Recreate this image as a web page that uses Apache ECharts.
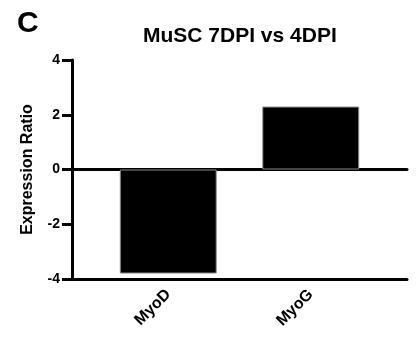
<!DOCTYPE html>
<html>
<head>
<meta charset="utf-8">
<script src="https://cdn.jsdelivr.net/npm/echarts@6/dist/echarts.min.js"></script>
<style>
  html, body { margin: 0; padding: 0; background: #fff; }
  #chart { width: 418px; height: 344px; }
</style>
</head>
<body>
<div id="chart"></div>
<script>
const genes = ['MyoD', 'MyoG'];
const ratios = [-3.8, 2.3];
const yTicks = [-4, -2, 0, 2, 4];

const font = 'Liberation Sans, Arial, sans-serif';
const chart = echarts.init(document.getElementById('chart'));

chart.setOption({
  animation: false,
  title: [
    {
      text: 'C', left: 12, top: 4,
      textStyle: { fontFamily: font, fontSize: 30, fontWeight: 'bold', color: '#000' }
    },
    {
      text: 'MuSC 7DPI vs 4DPI', left: 138, top: 21,
      textStyle: { fontFamily: font, fontSize: 21, fontWeight: 'bold', color: '#000' }
    }
  ],
  grid: [
    { left: 72, right: 11, top: 60, bottom: 65 },
    { left: 97, right: 36, top: 60, bottom: 65 }
  ],
  xAxis: [
    {
      gridIndex: 0, type: 'value', min: 0, max: 1, position: 'bottom',
      axisLine: { onZero: false, lineStyle: { color: '#000', width: 3 } },
      axisTick: { show: false }, axisLabel: { show: false }, splitLine: { show: false }
    },
    {
      // zero line
      gridIndex: 0, type: 'value', min: 0, max: 1, position: 'top',
      axisLine: { onZero: true, lineStyle: { color: '#000', width: 3 } },
      axisTick: { show: false }, axisLabel: { show: false }, splitLine: { show: false }
    },
    {
      gridIndex: 1, type: 'category', data: genes, position: 'bottom',
      axisLine: { show: false, onZero: false },
      axisTick: { alignWithLabel: true, length: 10, lineStyle: { color: '#000', width: 3 } },
      axisLabel: {
        rotate: 45, margin: 13, color: '#000',
        fontFamily: font, fontSize: 16, fontWeight: 'bold'
      }
    }
  ],
  yAxis: [
    {
      gridIndex: 0, type: 'value', min: -4, max: 4, interval: 2,
      name: 'Expression Ratio', nameLocation: 'middle', nameGap: 36,
      nameTextStyle: { fontFamily: font, fontSize: 16, fontWeight: 'bold', color: '#000' },
      axisLine: { show: true, lineStyle: { color: '#000', width: 3 } },
      axisTick: { show: true, length: 10, lineStyle: { color: '#000', width: 3 } },
      axisLabel: {
        margin: 12, color: '#000', fontFamily: font, fontSize: 14, fontWeight: 'bold',
        formatter: (v) => (yTicks.includes(v) ? String(v) : '')
      },
      splitLine: { show: false }
    },
    { gridIndex: 1, type: 'value', min: -4, max: 4, show: false }
  ],
  series: [
    {
      type: 'bar',
      xAxisIndex: 2,
      yAxisIndex: 1,
      data: ratios,
      barWidth: '68%',
      itemStyle: { color: '#000', borderColor: '#8a8a8a', borderWidth: 1 }
    }
  ]
});
</script>
</body>
</html>
